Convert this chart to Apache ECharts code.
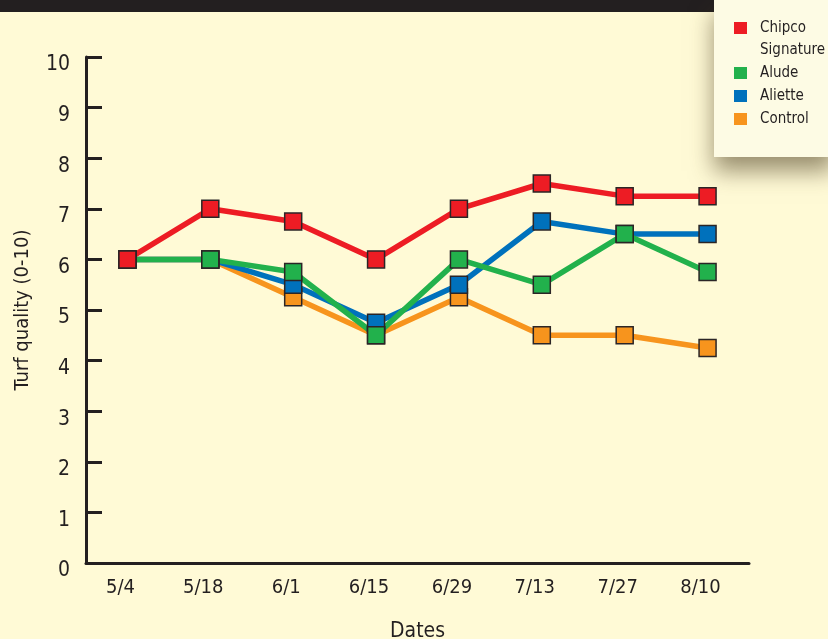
<!DOCTYPE html>
<html>
<head>
<meta charset="utf-8">
<script src="https://cdn.jsdelivr.net/npm/echarts@6/dist/echarts.min.js"></script>
<style>
  html, body { margin: 0; padding: 0; background: #fffad6; }
  #chart { width: 828px; height: 639px; }
</style>
</head>
<body>
<div id="chart"></div>
<script>
// Sampling dates
const dates = ['5/4', '5/18', '6/1', '6/15', '6/29', '7/13', '7/27', '8/10'];

// Turf quality ratings (0-10) per treatment
const chipcoSignature = [6, 7, 6.75, 6, 7, 7.5, 7.25, 7.25];
const alude = [6, 6, 5.75, 4.5, 6, 5.5, 6.5, 5.75];
const aliette = [6, 6, 5.5, 4.75, 5.5, 6.75, 6.5, 6.5];
const control = [6, 6, 5.25, 4.5, 5.25, 4.5, 4.5, 4.25];

const yTicks = [0, 1, 2, 3, 4, 5, 6, 7, 8, 9, 10];

const FONT = "'Liberation Sans Narrow', 'DejaVu Sans Condensed', 'Arial Narrow', sans-serif";
const INK = '#231f20';

function makeSeries(name, data, color) {
  return {
    name: name,
    type: 'line',
    data: data,
    symbol: 'rect',
    symbolSize: 17,
    lineStyle: { width: 5.5, color: color },
    itemStyle: { color: color, borderColor: '#2b2526', borderWidth: 1.5 },
    emphasis: { disabled: true },
    animation: false
  };
}

const chart = echarts.init(document.getElementById('chart'), null, { renderer: 'canvas' });

chart.setOption({
  backgroundColor: '#fffad6',
  animation: false,
  graphic: [
    { type: 'rect', z: 0, shape: { x: 0, y: 0, width: 715, height: 12 }, style: { fill: INK } },
    {
      type: 'rect', z: 1,
      shape: { x: 714, y: 0, width: 120, height: 157 },
      style: {
        fill: '#fdfbe4',
        shadowBlur: 22,
        shadowOffsetY: 14,
        shadowOffsetX: 0,
        shadowColor: 'rgba(70, 55, 25, 0.55)'
      }
    }
  ],
  grid: { left: 86, right: 79, top: 57, bottom: 76, containLabel: false, outerBoundsMode: 'none' },
  legend: {
    z: 10,
    orient: 'vertical',
    left: 734,
    top: -5,
    padding: 0,
    itemGap: 1,
    itemWidth: 13,
    itemHeight: 12,
    icon: 'rect',
    itemStyle: { borderWidth: 0 },
    formatter: function (name) {
      // two-line entry: a blank first line keeps "Chipco" level with the swatch
      if (name === 'Chipco Signature') {
        return '{s|}\n{s|}{t|Chipco}\n{s|}{t|Signature}';
      }
      return '{s|}{t|' + name + '}';
    },
    textStyle: {
      fontFamily: FONT, fontSize: 15, color: INK, lineHeight: 22,
      rich: {
        s: { width: 8, lineHeight: 22 },
        t: { fontFamily: FONT, fontSize: 15, color: INK, lineHeight: 22 }
      }
    },
    data: ['Chipco Signature', 'Alude', 'Aliette', 'Control']
  },
  xAxis: {
    type: 'category',
    data: dates,
    boundaryGap: true,
    name: 'Dates',
    nameLocation: 'middle',
    nameGap: 58,
    nameTextStyle: { fontFamily: FONT, fontSize: 21, color: INK },
    axisLine: { lineStyle: { color: INK, width: 3 } },
    axisTick: { inside: true, length: 12, lineStyle: { color: INK, width: 3 } },
    axisLabel: { fontFamily: FONT, fontSize: 20, color: INK, margin: 15, padding: [0, 14, 0, 0] },
    splitLine: { show: false }
  },
  yAxis: {
    type: 'value',
    min: yTicks[0],
    max: yTicks[yTicks.length - 1],
    interval: 1,
    name: 'Turf quality (0-10)',
    nameLocation: 'middle',
    nameGap: 53,
    nameTextStyle: { fontFamily: FONT, fontSize: 20, color: INK },
    axisLine: { show: true, lineStyle: { color: INK, width: 3 } },
    axisTick: { show: true, inside: true, length: 16, lineStyle: { color: INK, width: 3 } },
    axisLabel: {
      fontFamily: FONT, fontSize: 21, color: INK, margin: 16,
      verticalAlign: 'top', lineHeight: 16
    },
    splitLine: { show: false }
  },
  series: [
    makeSeries('Control', control, '#f7941d'),
    makeSeries('Aliette', aliette, '#0071bc'),
    makeSeries('Alude', alude, '#22b14c'),
    makeSeries('Chipco Signature', chipcoSignature, '#ed1c24')
  ]
});
</script>
</body>
</html>
